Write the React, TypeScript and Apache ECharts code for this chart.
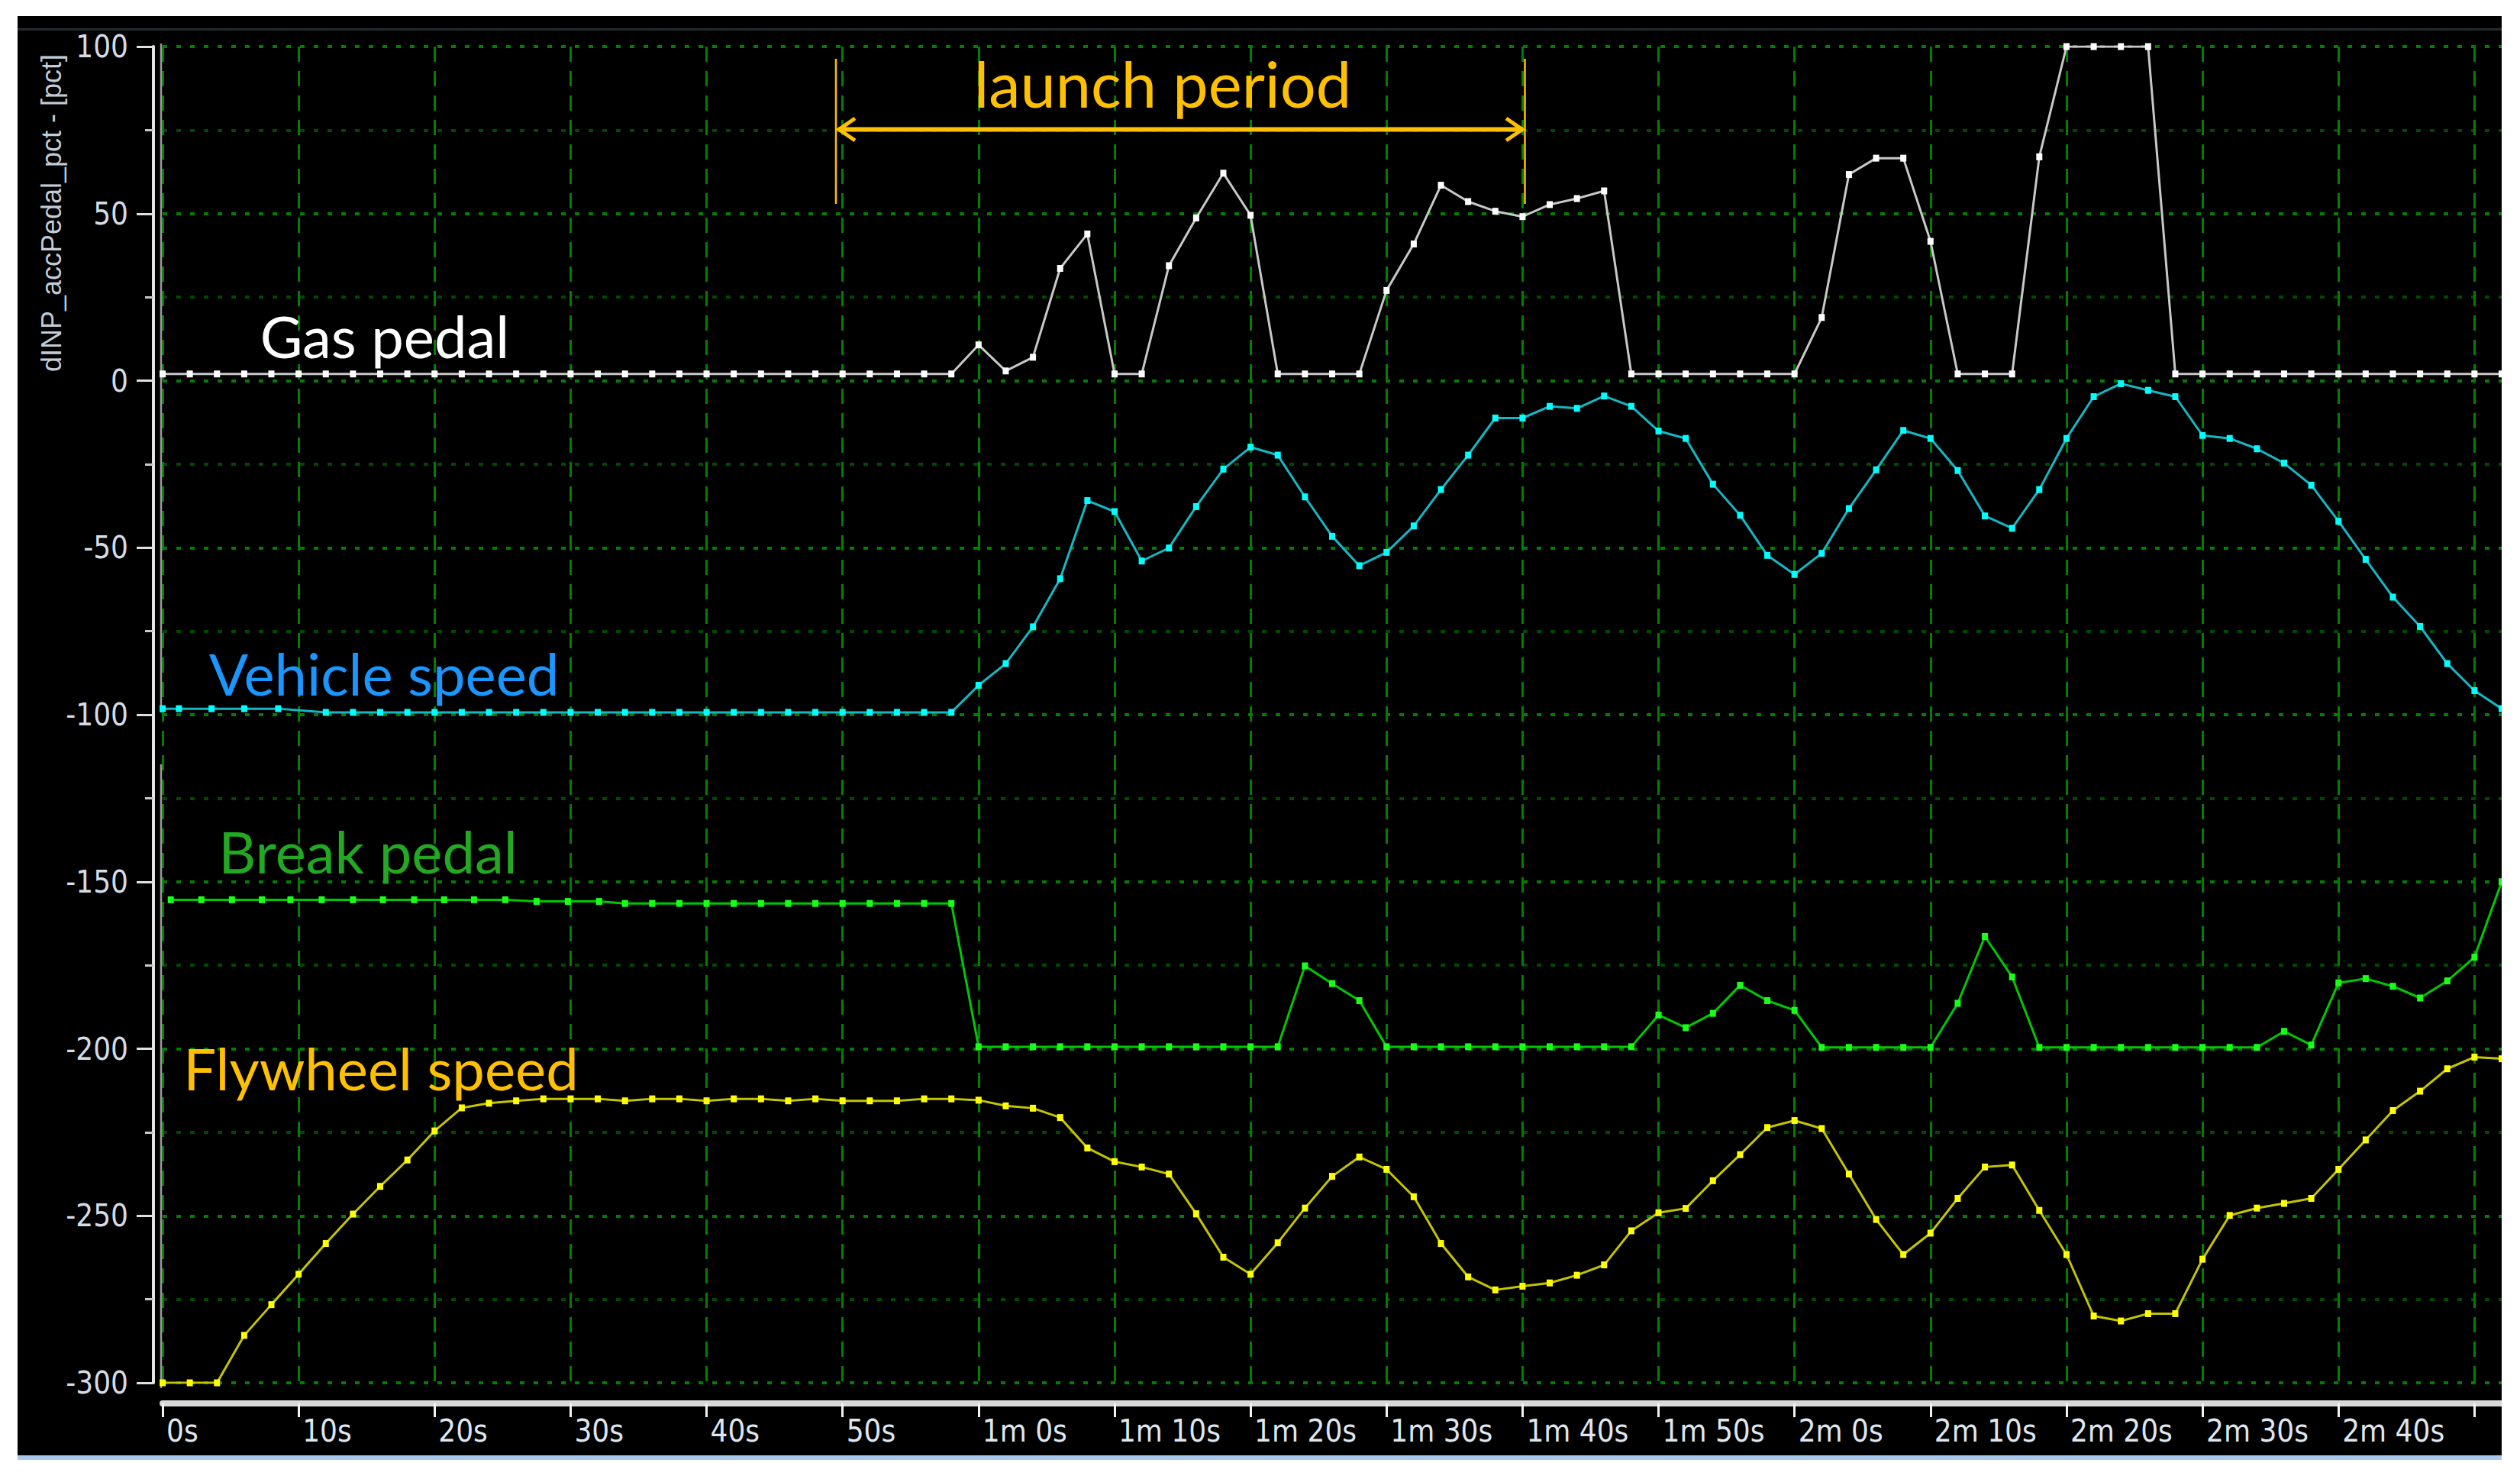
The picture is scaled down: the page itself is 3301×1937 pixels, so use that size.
import React, { useEffect, useRef } from "react";
import * as echarts from "echarts";

// ---------- data (time in seconds) ----------
const sampleTimes = [
  0, 2, 4, 6, 8, 10, 12, 14, 16, 18, 20, 22, 24, 26, 28, 30, 32, 34, 36, 38,
  40, 42, 44, 46, 48, 50, 52, 54, 56, 58, 60, 62, 64, 66, 68, 70, 72, 74, 76, 78,
  80, 82, 84, 86, 88, 90, 92, 94, 96, 98, 100, 102, 104, 106, 108, 110, 112, 114, 116, 118,
  120, 122, 124, 126, 128, 130, 132, 134, 136, 138, 140, 142, 144, 146, 148, 150, 152, 154, 156, 158,
  160, 162, 164, 166, 168, 170, 172,
];

const gasPedal = [
  2, 2, 2, 2, 2, 2, 2, 2, 2, 2, 2, 2, 2, 2, 2, 2, 2, 2, 2, 2,
  2, 2, 2, 2, 2, 2, 2, 2, 2, 2, 10.7, 2.9, 7.0, 33.6, 43.9, 2, 2, 34.4, 48.7, 62.1,
  49.5, 2, 2, 2, 2, 27.0, 40.9, 58.5, 53.6, 50.7, 49.1, 52.7, 54.5, 56.8, 2, 2, 2, 2, 2, 2,
  2, 18.9, 61.7, 66.6, 66.6, 41.7, 2, 2, 2, 67.0, 100, 100, 100, 100, 2, 2, 2, 2, 2, 2,
  2, 2, 2, 2, 2, 2, 2,
];

const vehicleTimes = [
  0, 1.2, 3.6, 6.0, 8.5,
  12, 14, 16, 18, 20, 22, 24, 26, 28, 30, 32, 34, 36, 38, 40, 42, 44, 46, 48, 50, 52, 54, 56, 58,
  60, 62, 64, 66, 68, 70, 72, 74, 76, 78, 80, 82, 84, 86, 88, 90, 92, 94, 96, 98,
  100, 102, 104, 106, 108, 110, 112, 114, 116, 118, 120, 122, 124, 126, 128, 130, 132, 134, 136, 138,
  140, 142, 144, 146, 148, 150, 152, 154, 156, 158, 160, 162, 164, 166, 168, 170, 172,
];
const vehicleSpeed = [
  -98.2, -98.2, -98.2, -98.2, -98.2,
  -99.3, -99.3, -99.3, -99.3, -99.3, -99.3, -99.3, -99.3, -99.3, -99.3, -99.3, -99.3, -99.3, -99.3, -99.3, -99.3, -99.3, -99.3, -99.3, -99.3, -99.3, -99.3, -99.3, -99.3,
  -91.2, -84.7, -73.7, -59.3, -35.9, -39.2, -54.0, -50.1, -37.7, -26.5, -19.9, -22.3, -34.8, -46.6, -55.4, -51.4, -43.5, -32.6, -22.3, -11.2,
  -11.2, -7.7, -8.3, -4.6, -7.7, -15.1, -17.3, -31.0, -40.3, -52.3, -58.0, -51.7, -38.3, -26.7, -14.9, -17.3, -26.9, -40.5, -44.2, -32.6,
  -17.3, -4.8, -0.9, -2.9, -4.8, -16.4, -17.3, -20.4, -24.7, -31.3, -42.1, -53.5, -64.8, -73.6, -84.7, -92.8, -98.2,
];

const brakeTimes = [
  0.6, 2.85, 5.1, 7.3, 9.4, 11.7, 14.0, 16.2, 18.5, 20.7, 22.9, 25.2, 27.5, 29.8, 32.1,
  34, 36, 38, 40, 42, 44, 46, 48, 50, 52, 54, 56, 58,
  60, 62, 64, 66, 68, 70, 72, 74, 76, 78, 80, 82, 84, 86, 88, 90, 92, 94, 96, 98,
  100, 102, 104, 106, 108, 110, 112, 114, 116, 118, 120, 122, 124, 126, 128, 130, 132, 134, 136, 138,
  140, 142, 144, 146, 148, 150, 152, 154, 156, 158, 160, 162, 164, 166, 168, 170, 172,
];
const brakePedal = [
  -155.4, -155.4, -155.4, -155.4, -155.4, -155.4, -155.4, -155.4, -155.4, -155.4, -155.4, -155.4, -155.9, -155.9, -155.9,
  -156.5, -156.5, -156.5, -156.5, -156.5, -156.5, -156.5, -156.5, -156.5, -156.5, -156.5, -156.5, -156.5,
  -199.4, -199.4, -199.4, -199.4, -199.4, -199.4, -199.4, -199.4, -199.4, -199.4, -199.4, -199.4, -175.2, -180.5, -185.6, -199.4, -199.4, -199.4, -199.4, -199.4,
  -199.4, -199.4, -199.4, -199.4, -199.4, -189.9, -193.7, -189.4, -181.0, -185.6, -188.5, -199.6, -199.6, -199.6, -199.6, -199.6, -186.4, -166.4, -178.5, -199.6,
  -199.6, -199.6, -199.6, -199.6, -199.6, -199.6, -199.6, -199.6, -194.8, -198.9, -180.3, -179.0, -181.3, -184.8, -179.7, -172.6, -150,
];

const flywheelSpeed = [
  -300, -300, -300, -285.8, -276.6, -267.5, -258.3, -249.5, -241.2, -233.3, -224.6, -217.7, -216.3, -215.6, -215, -215, -215, -215.6, -215, -215,
  -215.6, -215, -215, -215.6, -215, -215.6, -215.6, -215.6, -215, -215, -215.4, -217.1, -217.8, -220.6, -229.7, -233.8, -235.4, -237.5, -249.4, -262.4,
  -267.5, -258.1, -247.7, -238.2, -232.4, -236.1, -244.3, -258.3, -268.3, -272.2, -271.1, -270.1, -267.8, -264.7, -254.5, -249.1, -247.8, -239.5, -231.7, -223.6,
  -221.5, -223.9, -237.5, -251.1, -261.6, -255.2, -244.8, -235.4, -234.8, -248.4, -261.6, -280, -281.5, -279.3, -279.3, -263, -249.9, -247.7, -246.3, -244.8,
  -236.1, -227.3, -218.5, -212.7, -206, -202.5, -203,
];

const xTickLabels = [
  "0s", "10s", "20s", "30s", "40s", "50s", "1m 0s", "1m 10s", "1m 20s",
  "1m 30s", "1m 40s", "1m 50s", "2m 0s", "2m 10s", "2m 20s", "2m 30s", "2m 40s",
];

const yAxisName = "dINP_accPedal_pct - [pct]";

const pairs = (t: number[], v: number[]) => t.map((x, i) => [x, v[i]]);

const NARROW = '"Liberation Sans Narrow", "DejaVu Sans Condensed", "Arial Narrow", sans-serif';
const LABEL_FONT = 'Lato, "Open Sans", sans-serif';
const ORANGE = "#ffc000";

function lineSeries(name: string, data: number[][], line: string, dot: string) {
  return {
    type: "line",
    name,
    data,
    symbol: "rect",
    symbolSize: [8, 9],
    showSymbol: true,
    clip: true,
    silent: true,
    lineStyle: { color: line, width: 3 },
    itemStyle: { color: dot },
    emphasis: { disabled: true },
  };
}

export default function App() {
  const ref = useRef<HTMLDivElement>(null);

  useEffect(() => {
    document.body.style.margin = "0";
    const chart = echarts.init(ref.current as HTMLDivElement, undefined, {
      renderer: "svg",
      width: 3254,
      height: 1885,
    });

    const option: any = {
      animation: false,
      backgroundColor: "#000000",
      grid: { left: 190, top: 40, right: 0, bottom: 95, containLabel: false },
      xAxis: {
        type: "value",
        min: 0,
        max: 172,
        interval: 10,
        offset: 27,
        axisLine: { show: true, onZero: false, lineStyle: { color: "#d9d9d9", width: 8 } },
        axisTick: { show: true, length: 18, lineStyle: { color: "#f2f2f2", width: 3 } },
        axisLabel: {
          show: true,
          color: "#dfe6ee",
          fontFamily: NARROW,
          fontSize: 40,
          align: "left",
          margin: 16,
          padding: [0, 0, 0, 5],
          showMaxLabel: false,
          formatter: (v: number) => {
            const i = Math.round(v / 10);
            return v % 10 === 0 && i < xTickLabels.length ? xTickLabels[i] : "";
          },
        },
        splitLine: {
          show: true,
          showMaxLine: false,
          lineStyle: { color: "#007f00", width: 3, type: [20, 12] },
        },
      },
      yAxis: {
        type: "value",
        min: -300,
        max: 100,
        interval: 50,
        offset: 12,
        axisLine: { show: true, onZero: false, lineStyle: { color: "#e6e6e6", width: 4 } },
        axisTick: { show: true, length: 22, lineStyle: { color: "#e0e0e0", width: 3 } },
        minorTick: { show: true, splitNumber: 2, length: 11, lineStyle: { color: "#c8c8c8", width: 3 } },
        axisLabel: { color: "#d4dce6", fontFamily: NARROW, fontSize: 40, margin: 33 },
        splitLine: { show: true, lineStyle: { color: "#007f00", width: 4, type: [6, 12] } },
        minorSplitLine: { show: true, lineStyle: { color: "#004a00", width: 4, type: [6, 12] } },
      },
      series: [
        lineSeries("Flywheel speed", pairs(sampleTimes, flywheelSpeed), "#c4c400", "#ffff00"),
        lineSeries("Break pedal", pairs(brakeTimes, brakePedal), "#00c800", "#19ff19"),
        lineSeries("Vehicle speed", pairs(vehicleTimes, vehicleSpeed), "#14b8c4", "#00ffff"),
        lineSeries("Gas pedal", pairs(sampleTimes, gasPedal), "#c8c8c8", "#ffffff"),
      ],
      graphic: [
        // thin dark line along top of the panel
        { type: "rect", z: 1, shape: { x: 0, y: 16, width: 3254, height: 3 }, style: { fill: "#25292e" } },
        // grey trace at t = 0
        { type: "line", z: 3, shape: { x1: 188, y1: 36, x2: 188, y2: 912 }, style: { stroke: "#9a9a9a", lineWidth: 2.5 } },
        { type: "line", z: 3, shape: { x1: 188, y1: 980, x2: 188, y2: 1797 }, style: { stroke: "#9a9a9a", lineWidth: 2.5 } },
        // y-axis name
        {
          type: "text",
          z: 10,
          x: 44,
          y: 258,
          rotation: Math.PI / 2,
          style: {
            text: yAxisName,
            fill: "#c2ccd6",
            fontSize: 36,
            fontFamily: '"Liberation Sans", Arial, sans-serif',
            textAlign: "center",
            textVerticalAlign: "middle",
          },
        },
        // launch period annotation
        { type: "line", z: 10, shape: { x1: 1072, y1: 56, x2: 1072, y2: 246 }, style: { stroke: ORANGE, lineWidth: 2.5 } },
        { type: "line", z: 10, shape: { x1: 1974.5, y1: 56, x2: 1974.5, y2: 246 }, style: { stroke: ORANGE, lineWidth: 2.5 } },
        { type: "line", z: 10, shape: { x1: 1075, y1: 148.6, x2: 1972, y2: 148.6 }, style: { stroke: ORANGE, lineWidth: 6 } },
        { type: "polyline", z: 10, shape: { points: [[1097, 134], [1076, 148.6], [1097, 163]] }, style: { stroke: ORANGE, lineWidth: 5, fill: "none" } },
        { type: "polyline", z: 10, shape: { points: [[1950, 134], [1971, 148.6], [1950, 163]] }, style: { stroke: ORANGE, lineWidth: 5, fill: "none" } },
        {
          type: "text", z: 10, x: 1500, y: 88,
          style: { text: "launch period", fill: ORANGE, fontSize: 83, fontFamily: LABEL_FONT, textAlign: "center", textVerticalAlign: "middle" },
        },
        // series labels
        {
          type: "text", z: 10, x: 481, y: 418,
          style: { text: "Gas pedal", fill: "#ffffff", fontSize: 76, fontFamily: LABEL_FONT, textAlign: "center", textVerticalAlign: "middle" },
        },
        {
          type: "text", z: 10, x: 480, y: 860,
          style: { text: "Vehicle speed", fill: "#1a96ff", fontSize: 76, fontFamily: LABEL_FONT, textAlign: "center", textVerticalAlign: "middle" },
        },
        {
          type: "text", z: 10, x: 459, y: 1093,
          style: { text: "Break pedal", fill: "#22a822", fontSize: 76, fontFamily: LABEL_FONT, textAlign: "center", textVerticalAlign: "middle" },
        },
        {
          type: "text", z: 10, x: 476, y: 1377,
          style: { text: "Flywheel speed", fill: ORANGE, fontSize: 76, fontFamily: LABEL_FONT, textAlign: "center", textVerticalAlign: "middle" },
        },
      ],
    };

    chart.setOption(option);
    return () => chart.dispose();
  }, []);

  return (
    <div style={{ position: "fixed", left: 0, top: 0, width: 3301, height: 1937, background: "#ffffff", overflow: "hidden" }}>
      <div ref={ref} style={{ position: "absolute", left: 23, top: 21, width: 3254, height: 1885, background: "#000000" }} />
      <div style={{ position: "absolute", left: 23, top: 1906, width: 3254, height: 6, background: "#aac8ee" }} />
    </div>
  );
}
